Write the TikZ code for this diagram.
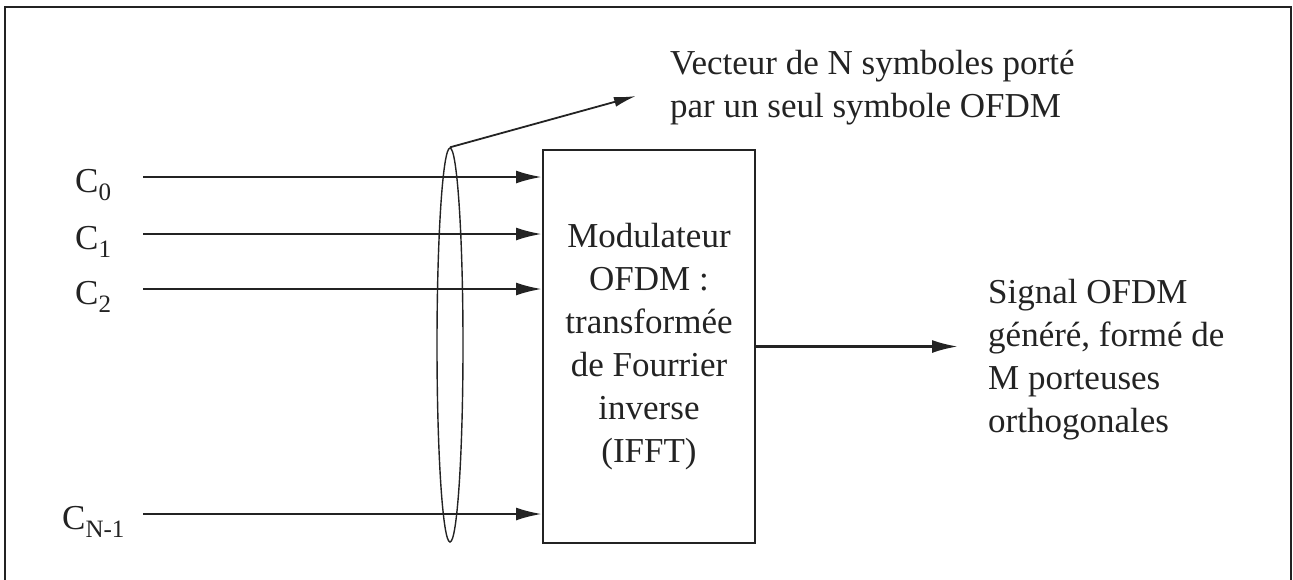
\documentclass[tikz,border=0pt]{standalone}
\usepackage{fontspec}
\setmainfont{Liberation Serif}
\usepackage{tikz}
\usetikzlibrary{shapes.geometric,arrows.meta,positioning}
\usepackage{xcolor}
\definecolor{inkcol}{RGB}{35,35,35}
\newcommand{\csub}[1]{\raisebox{-0.25em}{\fontsize{25}{25}\selectfont #1}}

\begin{document}
\begin{tikzpicture}[x=1pt, y=-1pt, inkcol,
  every node/.style={font=\fontsize{35}{43}\selectfont, inner sep=0pt, text=inkcol},
  sig/.style={line width=2.6pt, -{Latex[length=26pt,width=13pt]}}]
  % page frame 1293x579
  \useasboundingbox (0,0) rectangle (1293,579);
  \draw[line width=2pt] (5,7) rectangle (1291,600);
  % modulator block
  \node[draw, line width=2pt, minimum width=212pt, minimum height=393pt, align=center] (mod) at (649,346.5)
    {Modulateur\\OFDM :\\transformée\\de Fourrier\\inverse\\(IFFT)};
  \node[draw, ellipse, line width=1.4pt, minimum width=26pt, minimum height=394pt] (grp) at (450,345) {};
  % inputs C_k
  \foreach \n/\x/\y/\lab in {0/75/177/C\csub{0}, 1/75/234/C\csub{1}, 2/75/289/C\csub{2}, 3/62/514/C\csub{N-1}} {
    \node[anchor=base west] (c\n) at (\x,\y+15) {\lab};
    \coordinate (in\n) at (143,\y);
    \draw[sig] (in\n) -- (in\n -| mod.west);
  }
  % output signal
  \node[anchor=west, align=left] (out) at (988,360) {Signal OFDM\\généré, formé de\\M porteuses\\orthogonales};
  \draw[sig] (mod.east) -- ([xshift=-30pt]out.west |- mod.east);
  % vector label
  \node[anchor=west, align=left] (vec) at (670,88) {Vecteur de N symboles porté\\par un seul symbole OFDM};
  \coordinate (tip) at (636,96);
  \draw[line width=1.8pt, -{Latex[length=22pt,width=10pt]}] (grp.north) -- (tip);
\end{tikzpicture}
\end{document}
